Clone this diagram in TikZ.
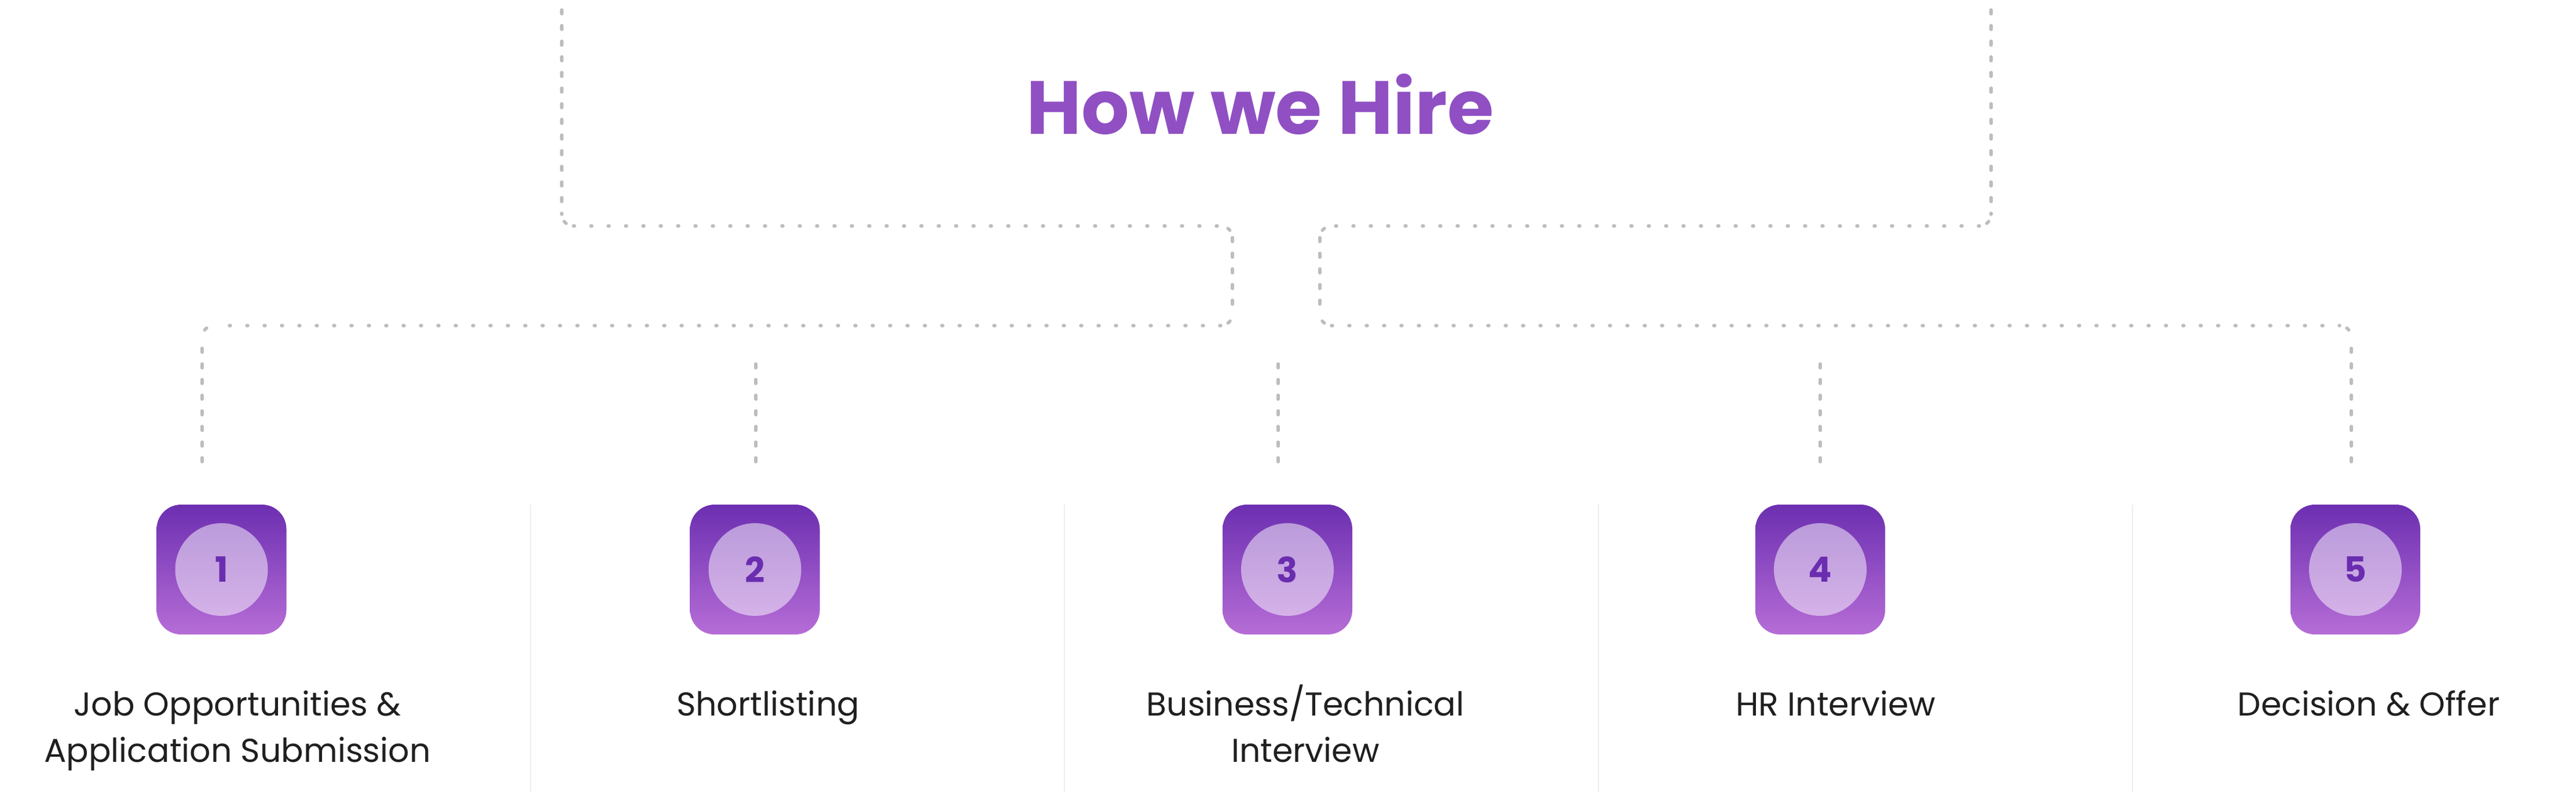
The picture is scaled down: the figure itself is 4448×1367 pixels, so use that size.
\documentclass[tikz,border=0pt]{standalone}
\usepackage{fontspec}
\usetikzlibrary{calc}
\setmainfont{Poppins}
\definecolor{dashgray}{HTML}{BDBDBD}
\definecolor{sepgray}{HTML}{EEEEEE}
\definecolor{boxtop}{HTML}{6C2FB1}
\definecolor{boxbot}{HTML}{B66DD6}
\definecolor{numcol}{HTML}{6A2DB0}
\definecolor{titlecol}{HTML}{9050C3}
\definecolor{textcol}{HTML}{1F1F1F}
\begin{document}
\begin{tikzpicture}[x=1pt,y=-1pt,
  conn/.style={draw=dashgray, line width=5.5pt, line cap=round},
  hdot/.style={conn, dash pattern=on 2pt off 28pt},
  vdash/.style={conn, dash pattern=on 7pt off 20pt},
  cornerdash/.style={conn, rounded corners=20pt, dash pattern=on 5pt off 60pt, dash phase=52pt},
  sep/.style={draw=sepgray, line width=2.5pt},
  stepbox/.style={rectangle, rounded corners=42pt, minimum width=224pt, minimum height=224pt, inner sep=0pt, top color=boxtop, bottom color=boxbot, draw=none},
  disc/.style={circle, minimum size=160pt, inner sep=0pt, fill=white, fill opacity=0.5, text opacity=1, text=numcol, font=\fontsize{60}{60}\selectfont\bfseries},
  lbl/.style={anchor=base, align=center, text=textcol, font=\fontsize{57}{80}\selectfont, inner sep=0pt},
  titlestyle/.style={anchor=base, text=titlecol, font=\fontsize{130}{130}\selectfont\bfseries, inner sep=0pt}
]
\useasboundingbox (0,0) rectangle (4448,1367);

% title
\node[titlestyle] (title) at (2176,232) {How we Hire};

% separators
\foreach \x [count=\k] in {916,1838,2760,3682} {
  \coordinate (st\k) at (\x,871);
  \coordinate (sb\k) at (\x,1367);
  \draw[sep] (st\k) -- (sb\k);
}

% step boxes
\foreach \i/\x in {1/382.5, 2/1303.5, 3/2223, 4/3143, 5/4067} {
  \node[stepbox] (b\i) at (\x,983) {};
  \node[disc] (c\i) at (b\i.center) {\i};
}

% labels (base = baseline of last line)
\node[lbl] (l1) at (410,1315) {Job Opportunities \&\\Application Submission};
\node[lbl] (l2) at (1326,1235) {Shortlisting};
\node[lbl] (l3) at (2254,1315) {Business/Technical\\Interview};
\node[lbl] (l4) at (3170,1235) {HR Interview};
\node[lbl] (l5) at (4090,1235) {Decision \& Offer};

% connector coordinates
\coordinate (tl) at (970,-10);
\coordinate (tr) at (3438,-10);
\coordinate (A) at (970,390);
\coordinate (B) at (2128,390);
\coordinate (C) at (2128,562);
\coordinate (D) at (349,562);
\coordinate (E) at (3438,390);
\coordinate (F) at (2279,390);
\coordinate (G) at (2279,562);
\coordinate (H) at (4060,562);
\coordinate (e1) at (349,797);
\coordinate (e2) at (1305,797);
\coordinate (e3) at (2207,797);
\coordinate (e4) at (3143,797);
\coordinate (e5) at (4060,797);
\coordinate (s2) at (1305,624);
\coordinate (s3) at (2207,624);
\coordinate (s4) at (3143,624);

% left branch
\draw[vdash] (tl) -- ($(A)+(0,-20)$);
\draw[cornerdash] ($(A)+(0,-20)$) -- (A) -- ($(A)+(20,0)$);
\draw[hdot] ($(A)+(20,0)$) -- ($(B)+(-20,0)$);
\draw[cornerdash] ($(B)+(-20,0)$) -- (B) -- ($(B)+(0,20)$);
\draw[vdash] ($(B)+(0,20)$) -- ($(C)+(0,-20)$);
\draw[cornerdash] ($(C)+(0,-20)$) -- (C) -- ($(C)+(-20,0)$);
\draw[hdot] ($(C)+(-20,0)$) -- ($(D)+(20,0)$);
\draw[cornerdash] ($(D)+(20,0)$) -- (D) -- ($(D)+(0,20)$);
\draw[vdash] (e1) -- ($(D)+(0,20)$);

% right branch
\draw[vdash] (tr) -- ($(E)+(0,-20)$);
\draw[cornerdash] ($(E)+(0,-20)$) -- (E) -- ($(E)+(-20,0)$);
\draw[hdot] ($(E)+(-20,0)$) -- ($(F)+(20,0)$);
\draw[cornerdash] ($(F)+(20,0)$) -- (F) -- ($(F)+(0,20)$);
\draw[vdash] ($(F)+(0,20)$) -- ($(G)+(0,-20)$);
\draw[cornerdash] ($(G)+(0,-20)$) -- (G) -- ($(G)+(20,0)$);
\draw[hdot] ($(G)+(20,0)$) -- ($(H)+(-20,0)$);
\draw[cornerdash] ($(H)+(-20,0)$) -- (H) -- ($(H)+(0,20)$);
\draw[vdash] (e5) -- ($(H)+(0,20)$);

% short drops
\draw[vdash] (e2) -- (s2);
\draw[vdash] (e3) -- (s3);
\draw[vdash] (e4) -- (s4);
\end{tikzpicture}
\end{document}
